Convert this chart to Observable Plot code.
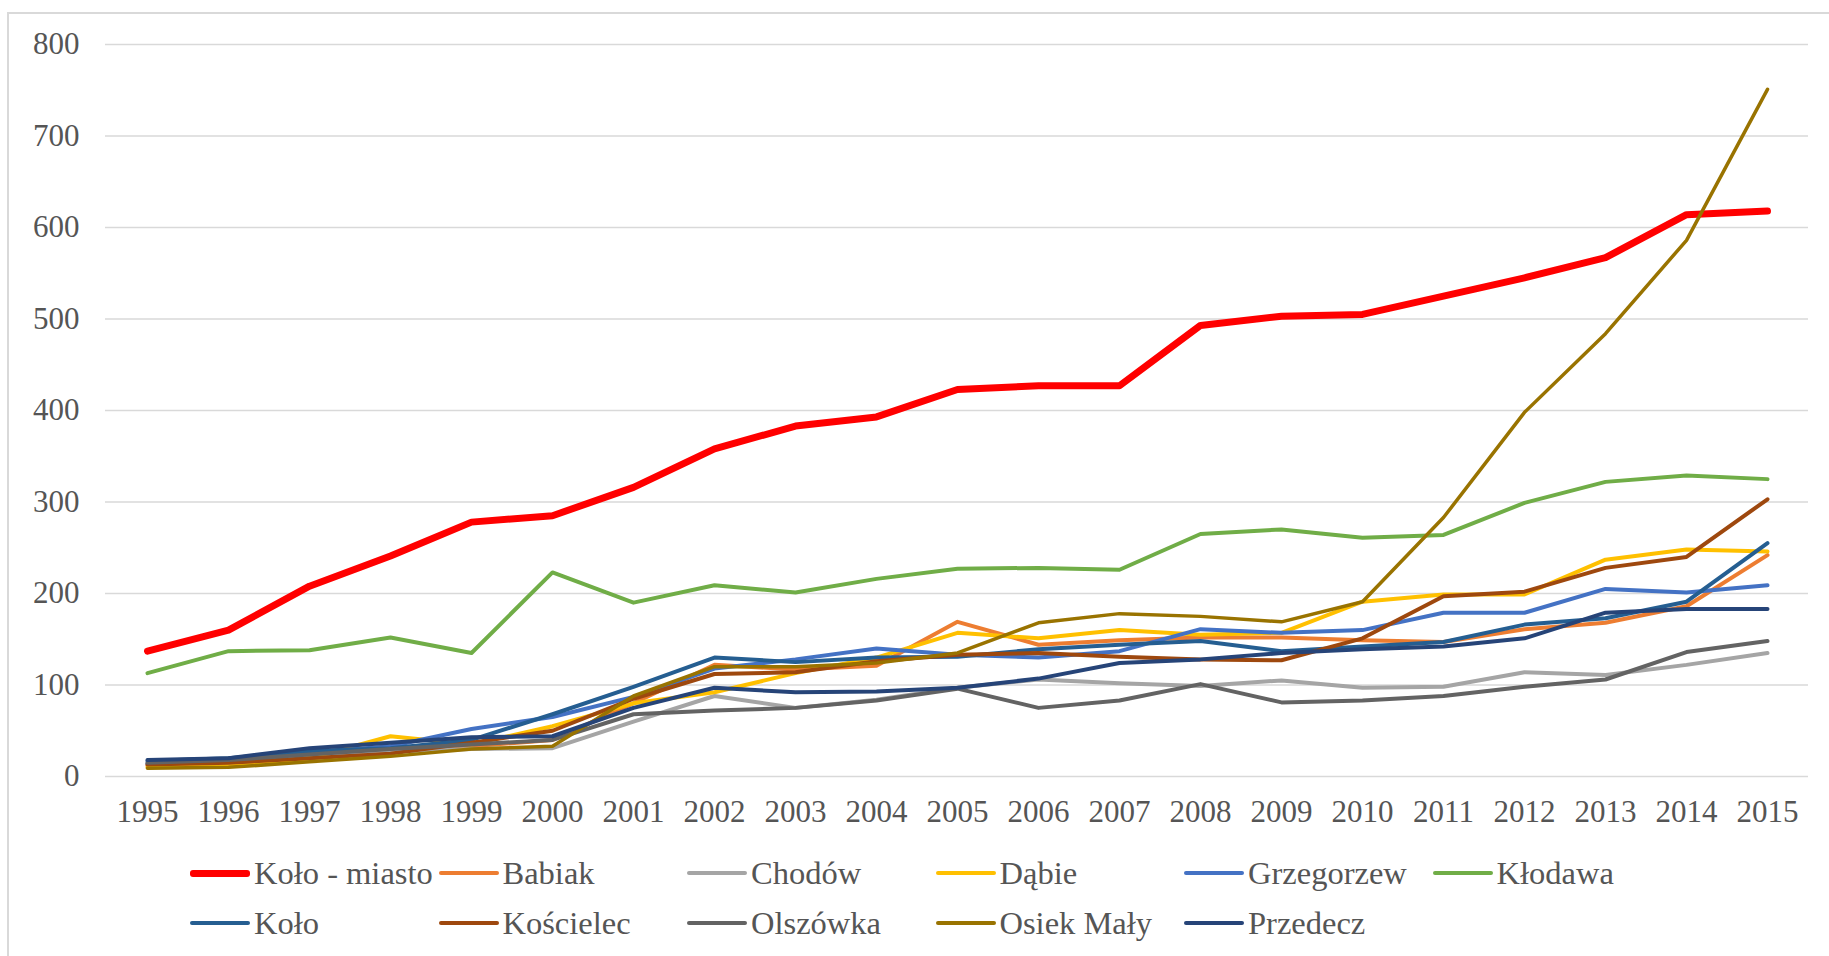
<!DOCTYPE html>
<html><head><meta charset="utf-8">
<script src="https://cdn.jsdelivr.net/npm/d3@7"></script>
<script src="https://cdn.jsdelivr.net/npm/@observablehq/plot@0.6"></script>
<style>
body{margin:0;background:#fff;}
#wrap{position:relative;width:1829px;height:956px;overflow:hidden;font-family:"Liberation Serif","Times New Roman",serif;background:#fff;}
#frame{position:absolute;left:7px;top:12px;width:1840px;height:960px;border:2px solid #d9d9d9;box-sizing:border-box;}
#chart{position:absolute;left:0;top:0;}
#chart svg, #chart svg text{font-family:"Liberation Serif","Times New Roman",serif !important;}
#legend{position:absolute;left:190px;top:848px;display:grid;grid-template-columns:repeat(6,248.5px);}
.item{display:flex;align-items:center;height:50px;font-size:32.5px;color:#555555;white-space:nowrap;}
.sw{width:60px;margin-right:4px;border-radius:3px;flex:none;}
</style>
</head><body>
<div id="wrap"><div id="frame"></div><div id="chart"></div><div id="legend"></div></div>
<script>
const years = ["1995","1996","1997","1998","1999","2000","2001","2002","2003","2004","2005","2006","2007","2008","2009","2010","2011","2012","2013","2014","2015"];
const yTicks = [0,100,200,300,400,500,600,700,800];

const seriesNames = ["Koło - miasto","Babiak","Chodów","Dąbie","Grzegorzew","Kłodawa","Koło","Kościelec","Olszówka","Osiek Mały","Przedecz"];
const seriesColors = ["#FF0000","#ED7D31","#A5A5A5","#FFC000","#4472C4","#70AD47","#255E91","#9E480E","#636363","#997300","#264478"];
const seriesWidths = [7,4,4,4,4,4,4,4,4,3.5,4];

const koloMiasto = [137,160,208,241,278,285,316,358,383,393,423,427,427,493,503,505,525,545,567,614,618];
const babiak     = [12,14,20,27,33,40,80,122,117,121,169,144,149,152,152,149,147,161,168,186,242];
const chodow     = [14,20,24,27,30,31,60,88,75,84,97,106,102,99,105,97,98,114,111,122,135];
const dabie      = [10,12,20,44,35,55,80,92,113,130,157,151,160,155,157,191,199,199,237,248,246];
const grzegorzew = [14,18,26,33,52,65,87,118,128,140,133,130,137,161,157,160,179,179,205,201,209];
const klodawa    = [113,137,138,152,135,223,190,209,201,216,227,228,226,265,270,261,264,299,322,329,325];
const kolo       = [17,20,28,31,40,68,98,130,125,130,131,139,144,148,137,142,147,166,173,191,255];
const koscielec  = [13,15,20,25,37,50,85,112,114,126,133,135,131,128,127,151,197,202,228,240,303];
const olszowka   = [15,18,24,30,35,40,68,72,75,83,96,75,83,101,81,83,88,98,106,136,148];
const osiekMaly  = [9,10,16,22,30,33,88,120,120,124,135,168,178,175,169,191,283,398,484,586,751];
const przedecz   = [18,20,31,37,43,44,75,97,92,93,97,107,124,128,135,139,142,151,179,183,183];

const seriesValues = [koloMiasto,babiak,chodow,dabie,grzegorzew,klodawa,kolo,koscielec,olszowka,osiekMaly,przedecz];

const lineMarks = seriesNames.map((name, i) => {
  const rows = years.map((yr, j) => ({year: yr, value: seriesValues[i][j]}));
  return Plot.line(rows, {x: "year", y: "value", stroke: seriesColors[i], strokeWidth: seriesWidths[i], strokeLinejoin: "round", strokeLinecap: "round"});
});

const serif = "'Liberation Serif','Times New Roman',serif";
const chart = Plot.plot({
  width: 1829, height: 840,
  marginLeft: 105, marginRight: 21, marginTop: 44, marginBottom: 64,
  x: {type: "point", domain: years, padding: 0.5, label: null},
  y: {domain: [0, 800], label: null},
  style: {fontFamily: serif, fontSize: "31px", color: "#555555", background: "transparent", overflow: "visible"},
  marks: [
    Plot.ruleY(yTicks, {stroke: "#d9d9d9", strokeWidth: 1.5}),
    Plot.axisY({ticks: yTicks, tickSize: 0, tickPadding: 26, fontSize: 31, fontFamily: serif, label: null}),
    Plot.axisX({tickSize: 0, tickPadding: 23, fontSize: 31, fontFamily: serif, label: null}),
    ...lineMarks
  ]
});
document.getElementById("chart").appendChild(chart);

const legend = document.getElementById("legend");
seriesNames.forEach((name, i) => {
  const it = document.createElement("div");
  it.className = "item";
  const sw = document.createElement("span");
  sw.className = "sw";
  sw.style.background = seriesColors[i];
  sw.style.height = (i === 0 ? 7 : 4.5) + "px";
  it.appendChild(sw);
  const t = document.createElement("span");
  t.textContent = name;
  it.appendChild(t);
  legend.appendChild(it);
});
</script>
</body></html>
